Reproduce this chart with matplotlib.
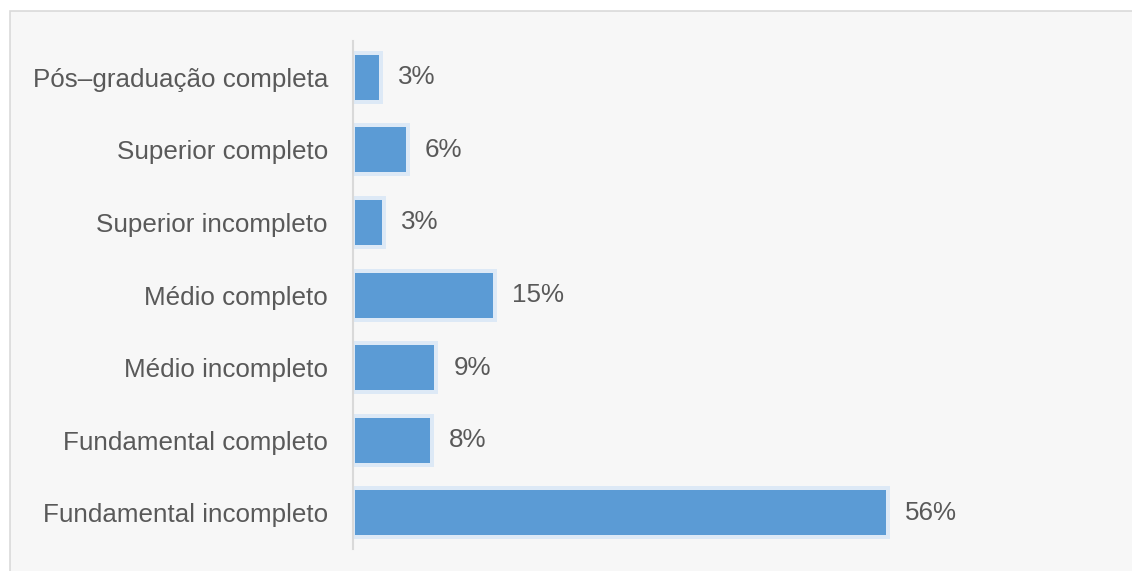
import matplotlib.pyplot as plt
from matplotlib.patches import Rectangle

# Escolaridade (de cima para baixo no gráfico)
categories = [
    'Pós–graduação completa',
    'Superior completo',
    'Superior incompleto',
    'Médio completo',
    'Médio incompleto',
    'Fundamental completo',
    'Fundamental incompleto',
]
values = [3.1, 5.9, 3.4, 15.0, 8.9, 8.4, 56.0]
labels = ['{:.0f}%'.format(v) for v in values]

BAR_COLOR = '#5b9bd5'
HALO_COLOR = '#dde9f6'
TEXT_COLOR = '#595959'
PANEL_COLOR = '#f7f7f7'
FONT_SIZE = 18.7

plt.rcParams['font.family'] = ['Liberation Sans', 'DejaVu Sans']

W, H, DPI = 1132, 571, 100
fig = plt.figure(figsize=(W / DPI, H / DPI), dpi=DPI)
fig.patch.set_facecolor('white')

# painel cinza com borda
fig.patches.append(Rectangle((10 / W, -0.1), 1.2, (H - 11) / H + 0.1,
                             transform=fig.transFigure,
                             facecolor=PANEL_COLOR, edgecolor='#dadada', linewidth=1.2,
                             zorder=-10))

left, right = 353 / W, 1110 / W
bottom, top = 1 - 549 / H, 1 - 41 / H
ax = fig.add_axes([left, bottom, right - left, top - bottom])
ax.set_facecolor('none')

px_per_unit = 9.59
xmax = (1110 - 353) / px_per_unit
ax.set_xlim(0, xmax)
ax.set_ylim(len(categories) - 0.5, -0.5)

ypos = list(range(len(categories)))
row_px = 508 / len(categories)
halo_h = 53 / row_px
inner_h = 45 / row_px
inset = 4 / px_per_unit
start = 2 / px_per_unit

# barra externa clara + barra interna azul
ax.barh(ypos, values, height=halo_h, color=HALO_COLOR, zorder=2)
ax.barh(ypos, [v - inset - start for v in values], left=start, height=inner_h,
        color=BAR_COLOR, zorder=3)

for y, v, lab in zip(ypos, values, labels):
    ax.text(v + 15 / px_per_unit, y, lab, va='center', ha='left',
            fontsize=FONT_SIZE, color=TEXT_COLOR)

ax.set_yticks(ypos)
ax.set_yticklabels(categories, fontsize=FONT_SIZE, color=TEXT_COLOR)
ax.tick_params(axis='y', length=0, pad=18)
ax.set_xticks([])

for side in ['top', 'right', 'bottom']:
    ax.spines[side].set_visible(False)
ax.spines['left'].set_color('#d9d9d9')
ax.spines['left'].set_linewidth(1.5)

fig.savefig('out.png', dpi=DPI, facecolor=fig.get_facecolor())
